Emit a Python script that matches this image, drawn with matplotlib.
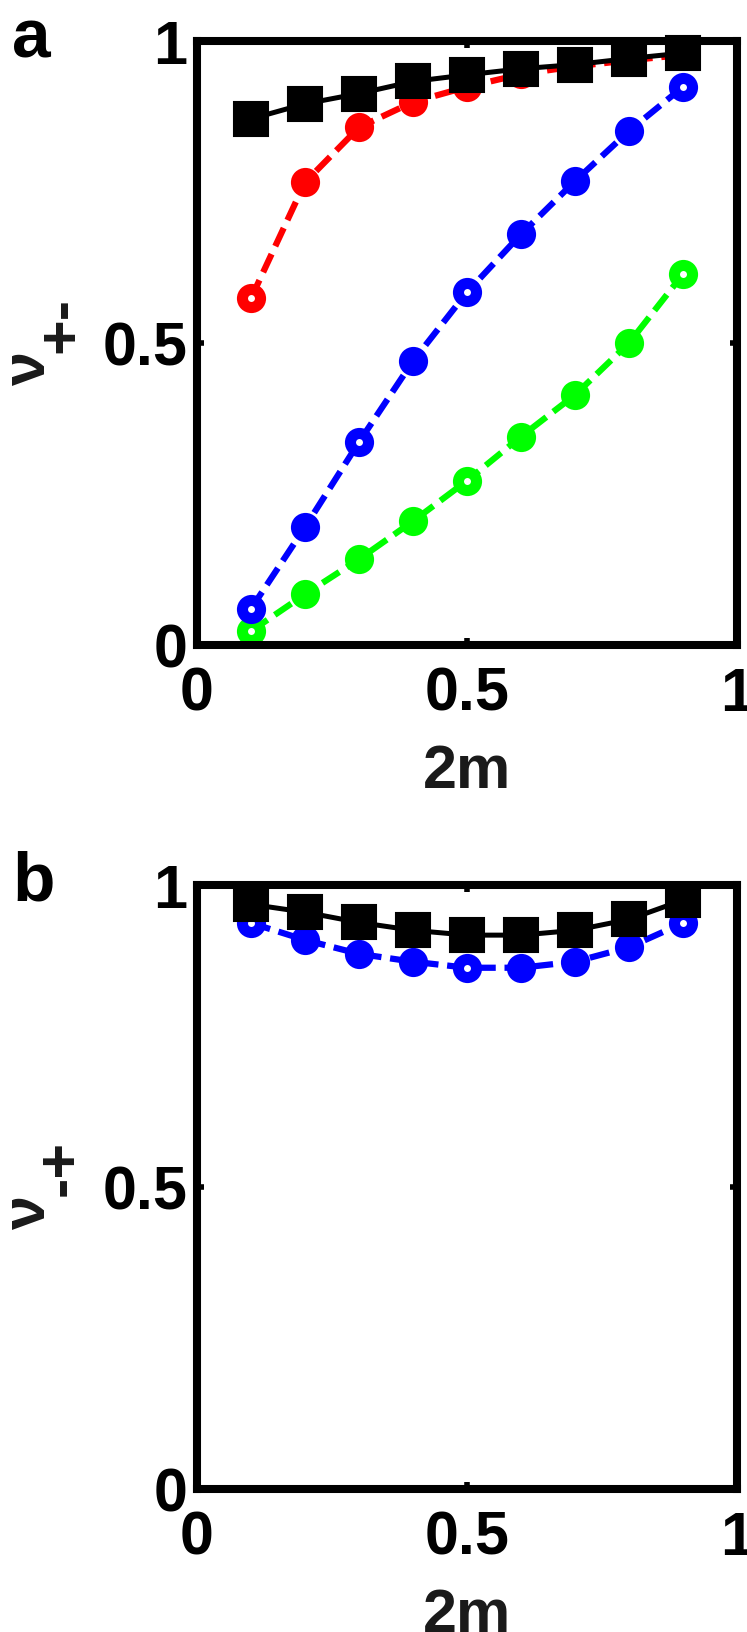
import matplotlib
matplotlib.use('Agg')
import matplotlib.pyplot as plt

# ---------------- data ----------------
x_vals = [0.1, 0.2, 0.3, 0.4, 0.5, 0.6, 0.7, 0.8, 0.9]

a_black = [0.871, 0.896, 0.913, 0.933, 0.944, 0.954, 0.961, 0.971, 0.980]
a_red   = [0.574, 0.766, 0.857, 0.899, 0.924, 0.945, 0.958, 0.968, 0.977]
a_blue  = [0.060, 0.195, 0.336, 0.470, 0.584, 0.680, 0.768, 0.851, 0.924]
a_green = [0.023, 0.084, 0.142, 0.205, 0.272, 0.345, 0.414, 0.500, 0.614]

b_black = [0.968, 0.955, 0.938, 0.925, 0.917, 0.917, 0.925, 0.943, 0.975]
b_blue  = [0.937, 0.909, 0.886, 0.873, 0.863, 0.863, 0.873, 0.897, 0.937]

# points whose circle shows a white centre in the reference
a_red_open   = [0]
a_blue_open  = [0, 2, 4, 8]
a_green_open = [0, 4, 8]
b_blue_open  = [0, 4, 8]

x_ticks = [0, 0.5, 1]
x_tick_labels = ['0', '0.5', '1']
y_ticks = [0, 0.5, 1]
y_tick_labels = ['0', '0.5', '1']

panel_labels = ['a', 'b']
x_label = '2m'

# ---------------- figure ----------------
W, H = 747, 1633
DPI = 100
plt.rcParams['font.family'] = ['Liberation Sans', 'DejaVu Sans']
plt.rcParams['font.weight'] = 'bold'
fig = plt.figure(figsize=(W / DPI, H / DPI), dpi=DPI)
fig.patch.set_facecolor('white')

FS = 44
SPINE_LW = 5.8


def px_axes(left, top, right, bottom):
    return fig.add_axes([left / W, 1 - bottom / H, (right - left) / W, (bottom - top) / H])


def style_axes(ax):
    ax.set_xlim(0, 1)
    ax.set_ylim(0, 1)
    ax.set_xticks(x_ticks)
    ax.set_xticklabels(x_tick_labels)
    ax.set_yticks(y_ticks)
    ax.set_yticklabels(y_tick_labels)
    for s in ax.spines.values():
        s.set_linewidth(SPINE_LW)
        s.set_capstyle('projecting')
        s.set_zorder(5)
    ax.tick_params(axis='both', direction='in', length=5, width=4,
                   top=True, right=True, labelsize=FS)
    ax.tick_params(axis='x', pad=15)
    ax.tick_params(axis='y', pad=7)
    for lab in ax.get_xticklabels() + ax.get_yticklabels():
        lab.set_fontweight('bold')
    ax.set_xlabel(x_label, fontsize=FS, fontweight='bold', color='#1a1a1a')
    ax.xaxis.set_label_coords(0.5, -0.163)


def dashed(ax, y, color, open_idx):
    ax.plot(x_vals, y, linestyle='--', dashes=(3.2, 1.4), color=color, lw=4.5,
            marker='o', ms=18, mew=3, mfc=color, mec=color, clip_on=False, zorder=3)
    ox = [x_vals[i] for i in open_idx]
    oy = [y[i] for i in open_idx]
    ax.plot(ox, oy, linestyle='none', marker='o', ms=5, mew=0, mfc='white',
            clip_on=False, zorder=3.5)


def solid_black(ax, y):
    ax.plot(x_vals, y, linestyle='-', color='black', lw=3.6,
            marker='s', ms=25, mew=1.5, mfc='black', mec='black', clip_on=False, zorder=4)


# panel a
shift = 844
ax_a = px_axes(197, 42, 737, 646)
style_axes(ax_a)
dashed(ax_a, a_red, '#ff0000', a_red_open)
dashed(ax_a, a_green, '#00ff00', a_green_open)
dashed(ax_a, a_blue, '#0000ff', a_blue_open)
solid_black(ax_a, a_black)

# panel b
ax_b = px_axes(197, 42 + shift, 737, 646 + shift)
style_axes(ax_b)
dashed(ax_b, b_blue, '#0000ff', b_blue_open)
solid_black(ax_b, b_black)

# panel letters
for i, lab in enumerate(panel_labels):
    fig.text(12 / W, 1 - (57 + i * shift) / H, lab, fontsize=50, fontweight='bold',
             ha='left', va='baseline')

# y labels (nu with subscripts)
subs = ['+-', '-+']
sub_start = [353, 1196 - shift]
for i in range(2):
    off = i * shift
    fig.text(45 / W, 1 - (385 + off) / H, '\u03bd', fontsize=FS, fontweight='bold',
             rotation=90, rotation_mode='anchor', ha='left', va='baseline',
             color='#1a1a1a')
    fig.text(78 / W, 1 - (sub_start[i] + off) / H, subs[i], fontsize=FS, fontweight='bold',
             rotation=90, rotation_mode='anchor', ha='left', va='baseline',
             color='#1a1a1a')

fig.savefig('out.png', dpi=DPI, facecolor='white')
